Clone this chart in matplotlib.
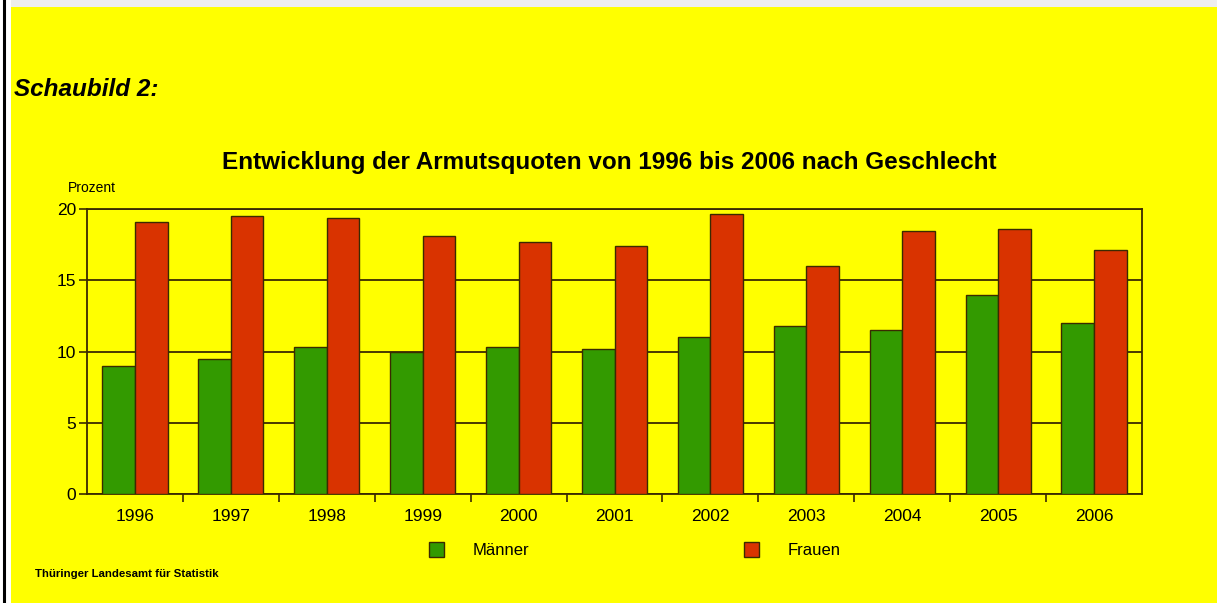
import matplotlib
matplotlib.use("Agg")
import matplotlib.pyplot as plt
from matplotlib.patches import Patch, Rectangle
from matplotlib.lines import Line2D
import numpy as np

years = ["1996", "1997", "1998", "1999", "2000", "2001", "2002", "2003", "2004", "2005", "2006"]
maenner = [9.0, 9.5, 10.3, 10.0, 10.3, 10.15, 11.0, 11.8, 11.5, 14.0, 12.0]
frauen = [19.1, 19.5, 19.4, 18.1, 17.7, 17.4, 19.65, 16.0, 18.45, 18.6, 17.1]
yticks = [0, 5, 10, 15, 20]

YELLOW = "#ffff00"
GREEN = "#339a00"
RED = "#d93300"
DARK = "#3a2a00"

plt.rcParams['font.family'] = ['Liberation Sans', 'DejaVu Sans']

W, H = 1217, 603
fig = plt.figure(figsize=(W / 100, H / 100), dpi=100)
fig.patch.set_facecolor("white")

# yellow page background and document artifacts
fig.patches.append(Rectangle((11 / W, 0), 1 - 11 / W, 1 - 7 / H, transform=fig.transFigure,
                             facecolor=YELLOW, edgecolor="none", zorder=-2))
fig.patches.append(Rectangle((11 / W, 1 - 7 / H), 1 - 11 / W, 7 / H, transform=fig.transFigure,
                             facecolor="#eeeeee", edgecolor="none", zorder=-2))
fig.lines.append(Line2D([4 / W, 4 / W], [0, 1], transform=fig.transFigure, color="black", lw=2.2,
                        zorder=-1))

ax = fig.add_axes([87 / W, 1 - 494 / H, (1142 - 87) / W, (494 - 209) / H])
ax.set_facecolor(YELLOW)

x = np.arange(len(years))
bw = 0.34
ax.bar(x - bw / 2, maenner, bw, color=GREEN, edgecolor=DARK, linewidth=1.0, zorder=3)
ax.bar(x + bw / 2, frauen, bw, color=RED, edgecolor=DARK, linewidth=1.0, zorder=3)

ax.set_xlim(-0.5, len(years) - 0.5)
ax.set_ylim(0, 20)
ax.set_yticks(yticks)
ax.set_yticklabels([str(v) for v in yticks], fontsize=12.5)
ax.yaxis.grid(True, color=DARK, linewidth=1.3, zorder=1)
ax.set_axisbelow(True)

ax.set_xticks(x)
ax.set_xticklabels(years, fontsize=12.5)
ax.tick_params(axis="x", which="major", length=0, pad=11)
ax.set_xticks(np.arange(0.5, len(years) - 0.5, 1), minor=True)
ax.tick_params(axis="x", which="minor", length=6, width=1.2, color=DARK, direction="out")
ax.tick_params(axis="y", length=6, width=1.2, color=DARK, pad=2)

for s in ax.spines.values():
    s.set_color(DARK)
    s.set_linewidth(1.3)

fig.text(68 / W, 1 - 188 / H, "Prozent", fontsize=10, ha="left", va="center")
fig.text(609 / W, 1 - 162 / H, "Entwicklung der Armutsquoten von 1996 bis 2006 nach Geschlecht",
         fontsize=17.5, fontweight="bold", ha="center", va="center")
fig.text(14 / W, 1 - 90 / H, "Schaubild 2:", fontsize=17.5, fontweight="bold", fontstyle="italic",
         ha="left", va="center")
fig.text(35 / W, 1 - 574 / H, "Thüringer Landesamt für Statistik", fontsize=8.2, fontweight="bold",
         ha="left", va="center")

handles = [Patch(facecolor=GREEN, edgecolor=DARK, label="Männer"),
           Patch(facecolor=RED, edgecolor=DARK, label="Frauen")]
fig.legend(handles=handles, loc="center left", bbox_to_anchor=(429 / W, 1 - 550 / H),
           ncol=2, frameon=False, fontsize=12, handlelength=0.9, handleheight=1.0,
           handletextpad=1.7, columnspacing=12.9, borderpad=0, borderaxespad=0)

fig.savefig("out.png", dpi=100, facecolor=fig.get_facecolor())
